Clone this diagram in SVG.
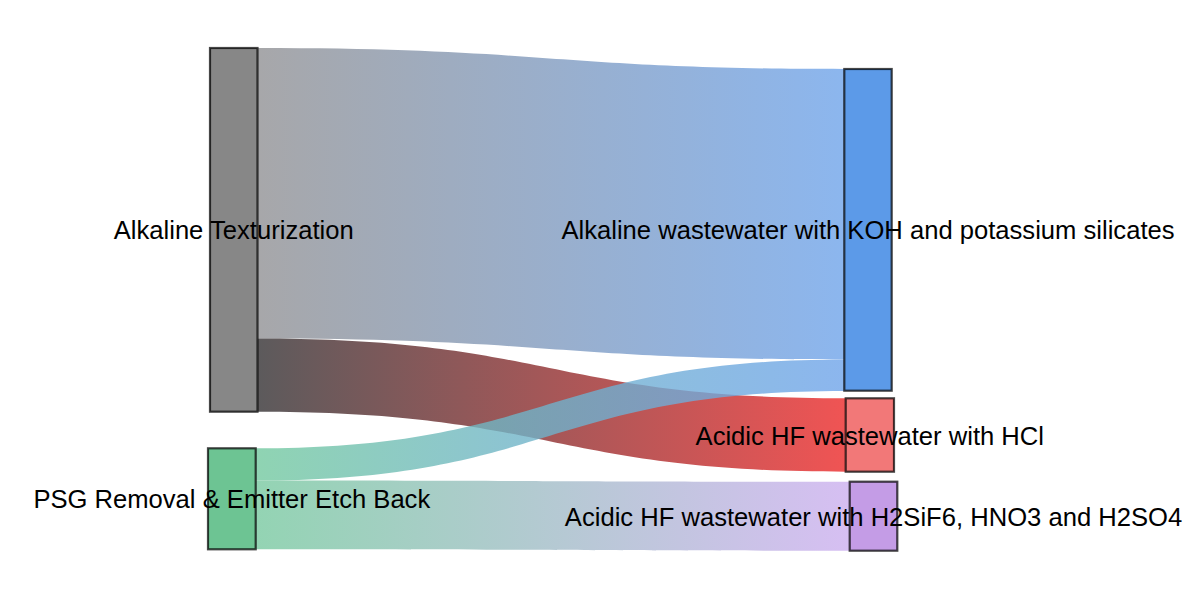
<svg xmlns="http://www.w3.org/2000/svg" width="1200" height="599" viewBox="0 0 1200 599">
<style>
.node{stroke:#000;stroke-opacity:0.72;stroke-width:2.2}
.flow{opacity:0.8}
.lbl{font-family:"Liberation Sans",Arial,sans-serif;font-size:25.6px;fill:#000;text-anchor:middle}
</style>
<defs>
<linearGradient id="g1" gradientUnits="userSpaceOnUse" x1="257.5" y1="0" x2="844.3" y2="0"><stop offset="0" stop-color="#919194"/><stop offset="1" stop-color="#6fa4ea"/></linearGradient>
<linearGradient id="g2" gradientUnits="userSpaceOnUse" x1="257.5" y1="0" x2="845.7" y2="0"><stop offset="0" stop-color="#333133"/><stop offset="1" stop-color="#ec2929"/></linearGradient>
<linearGradient id="g3" gradientUnits="userSpaceOnUse" x1="255.7" y1="0" x2="844.3" y2="0"><stop offset="0" stop-color="#73c99f"/><stop offset="0.45" stop-color="#70b4c8"/><stop offset="1" stop-color="#6fa4ea"/></linearGradient>
<linearGradient id="g4" gradientUnits="userSpaceOnUse" x1="255.7" y1="0" x2="849.7" y2="0"><stop offset="0" stop-color="#78c9a0"/><stop offset="1" stop-color="#ccafef"/></linearGradient>
</defs>
<rect width="1200" height="599" fill="#fff"/>
<g id="connectors">
<path class="flow" fill="url(#g1)" d="M257.5,48 C550.9,48 550.9,69 844.3,69 L844.3,359.5 C550.9,359.5 550.9,338.5 257.5,338.5 Z"/>
<path class="flow" fill="url(#g2)" d="M257.5,338.5 C551.6,338.5 551.6,398.3 845.7,398.3 L845.7,471.7 C551.6,471.7 551.6,411.7 257.5,411.7 Z"/>
<path class="flow" fill="url(#g3)" d="M255.7,448.3 C550,448.3 550,359.5 844.3,359.5 L844.3,391 C550,391 550,480.5 255.7,480.5 Z"/>
<path class="flow" fill="url(#g4)" d="M255.7,480.5 C552.7,480.5 552.7,481.7 849.7,481.7 L849.7,550.7 C552.7,550.7 552.7,549.3 255.7,549.3 Z"/>
</g>
<g id="node-alkaline-texturization">
<rect class="node" x="210" y="48" width="47.5" height="363.7" fill="#878787"/>
</g>
<g id="node-psg-removal">
<rect class="node" x="208" y="448.3" width="47.7" height="101" fill="#6dc493"/>
</g>
<g id="node-alkaline-wastewater">
<rect class="node" x="844.3" y="69" width="47.4" height="321.7" fill="#5c9ae8"/>
</g>
<g id="node-acidic-hcl">
<rect class="node" x="845.7" y="398.3" width="48.3" height="73.4" fill="#f27878"/>
</g>
<g id="node-acidic-h2sif6">
<rect class="node" x="849.7" y="481.7" width="47.6" height="69" fill="#c49ce6"/>
</g>
<g id="labels">
<text class="lbl" x="233.7" y="238.5">Alkaline Texturization</text>
<text class="lbl" x="231.8" y="508">PSG Removal &amp; Emitter Etch Back</text>
<text class="lbl" x="868" y="239">Alkaline wastewater with KOH and potassium silicates</text>
<text class="lbl" x="869.8" y="444.5">Acidic HF wastewater with HCl</text>
<text class="lbl" x="873.5" y="525.5">Acidic HF wastewater with H2SiF6, HNO3 and H2SO4</text>
</g>
</svg>
